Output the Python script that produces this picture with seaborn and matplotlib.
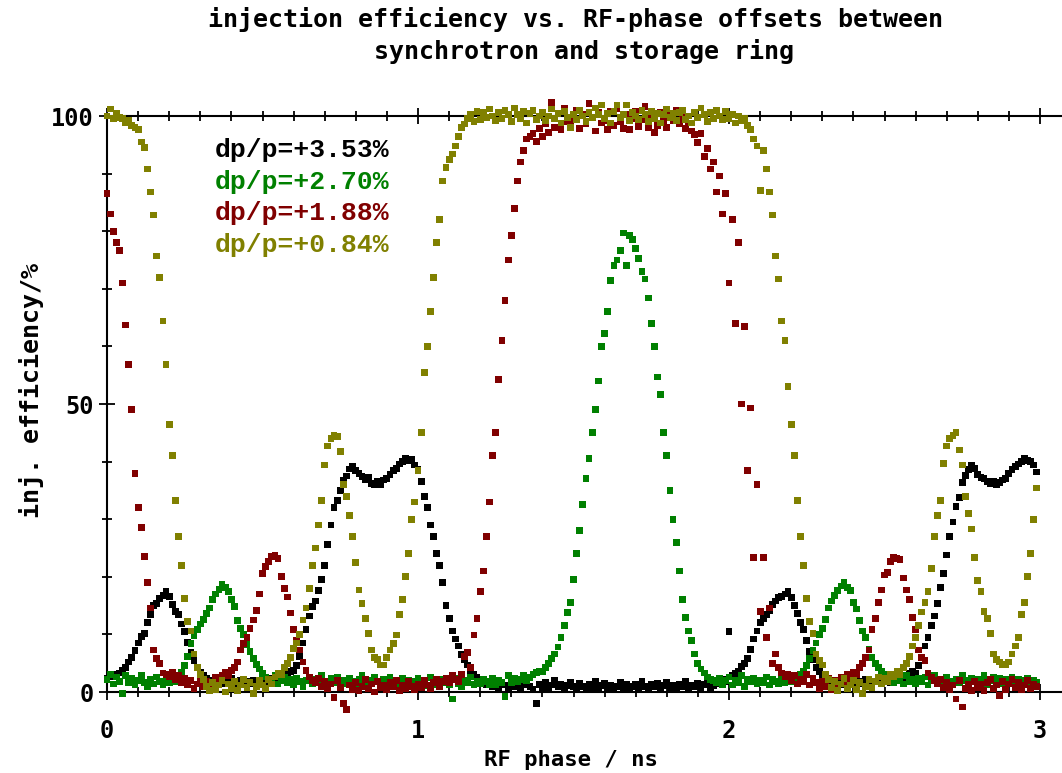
import numpy as np
import pandas as pd
import matplotlib
matplotlib.use("Agg")
import matplotlib.pyplot as plt
import seaborn as sns
from matplotlib.ticker import MultipleLocator

# RF phase scan grid (ns), 10 ps steps
phase_ns = np.round(np.arange(300) * 0.01, 2)

# injection efficiency (%) for each momentum offset, one row per 0.1 ns
eff_353 = [
    2.4, 2.6, 3.0, 2.7, 3.3, 3.8, 4.2, 5.2, 6.0, 7.2,
    8.5, 9.6, 10.2, 12.0, 13.4, 15.0, 15.3, 16.2, 16.8, 17.4,
    16.6, 15.2, 14.0, 13.4, 11.8, 10.5, 8.6, 6.8, 5.4, 4.3,
    3.4, 2.8, 2.4, 2.0, 1.6, 2.2, 1.8, 1.4, 2.0, 1.5,
    2.3, 1.7, 1.5, 2.0, 1.2, 1.8, 1.4, 2.1, 1.6, 1.9,
    2.0, 1.5, 1.8, 2.4, 1.9, 2.6, 2.2, 2.8, 3.0, 3.6,
    3.8, 4.6, 6.2, 8.5, 10.8, 13.2, 14.8, 15.8, 17.6, 19.5,
    22.0, 25.6, 29.0, 32.0, 33.2, 35.0, 36.8, 37.5, 38.7, 39.2,
    38.5, 38.0, 37.4, 36.8, 37.2, 36.2, 36.0, 36.6, 36.0, 36.8,
    37.0, 37.8, 38.4, 38.8, 39.6, 40.0, 40.5, 40.2, 40.3, 39.4,
    38.6, 36.6, 34.0, 32.0, 29.0, 27.0, 24.0, 22.0, 19.0, 15.0,
    12.7, 10.6, 9.2, 8.0, 6.5, 5.6, 4.7, 3.8, 3.0, 2.6,
    2.0, 1.6, 1.2, 1.8, 1.0, 1.4, 0.8, 1.6, 1.2, 0.6,
    1.4, 1.0, 1.8, 0.7, 1.2, 2.0, 1.0, 0.5, -2.0, 1.3,
    0.8, 1.6, 0.6, 1.2, 2.0, 0.9, 1.4, 0.4, 1.1, 1.7,
    0.9, 0.5, 1.5, 1.0, 0.4, 1.3, 0.8, 1.8, 0.6, 1.1,
    1.5, 0.7, 1.2, 0.5, 1.0, 1.6, 0.8, 1.3, 0.6, 1.0,
    1.4, 0.8, 1.8, 1.0, 0.6, 1.3, 0.9, 1.5, 0.7, 1.1,
    1.6, 0.8, 1.2, 0.5, 1.4, 1.0, 1.8, 0.7, 1.2, 0.9,
    1.5, 0.8, 1.3, 1.7, 0.6, 1.1, 1.9, 1.4, 2.2, 1.8,
    10.5, 2.8, 3.2, 3.6, 4.4, 5.0, 5.8, 7.4, 9.2, 10.6,
    12.0, 12.8, 13.4, 14.2, 15.2, 15.8, 16.4, 16.6, 17.0, 17.4,
    16.4, 15.0, 13.6, 12.0, 10.8, 9.0, 7.0, 5.6, 4.3, 3.6,
    3.0, 2.5, 2.2, 1.8, 2.0, 1.5, 1.9, 1.3, 1.7, 2.1,
    1.6, 1.2, 1.9, 1.4, 2.2, 1.6, 1.3, 1.8, 2.0, 1.5,
    1.8, 2.3, 1.6, 2.0, 2.6, 2.2, 2.8, 2.5, 3.2, 3.6,
    3.3, 4.6, 6.0, 8.0, 9.5, 11.6, 13.2, 15.4, 18.2, 20.6,
    23.8, 27.0, 29.5, 32.2, 33.8, 36.4, 37.6, 38.6, 39.4, 38.8,
    37.8, 37.2, 37.0, 36.6, 36.2, 36.6, 36.0, 36.4, 36.8, 37.0,
    38.0, 38.6, 39.2, 39.6, 40.0, 40.6, 40.2, 40.0, 39.4, 38.2,
]

eff_270 = [
    2.2, 3.0, 1.4, 2.6, 1.8, -0.2, 2.8, 1.6, 2.4, 1.2,
    2.0, 2.8, 1.6, 1.0, 2.2, 1.4, 2.6, 1.8, 1.2, 2.0,
    1.6, 2.4, 1.8, 2.8, 3.4, 4.6, 6.2, 8.4, 9.8, 10.8,
    11.8, 12.6, 13.6, 14.6, 16.0, 17.0, 17.8, 18.6, 18.2, 17.4,
    16.0, 14.8, 12.4, 11.0, 10.0, 8.2, 7.0, 5.8, 4.8, 4.0,
    3.2, 2.6, 2.2, 1.8, 2.8, 1.4, 2.0, 2.5, 1.6, 2.2,
    1.2, 2.4, 1.8, 1.0, 2.0, 2.6, 1.4, 2.2, 1.6, 2.8,
    1.8, 1.2, 2.3, 1.6, 2.6, 1.0, 2.0, 1.5, 2.4, 1.8,
    1.4, 2.2, 2.8, 1.6, 1.2, 2.0, 2.5, 1.8, 1.3, 2.2,
    1.7, 2.6, 1.4, 2.0, 1.2, 2.4, 1.6, 2.1, 1.0, 1.8,
    2.3, 1.5, 2.0, 1.1, 2.5, 1.7, 1.3, 2.2, 1.6, 2.0,
    1.2, -1.2, 2.4, 1.5, 1.0, 2.1, 1.6, 2.6, 1.3, 1.9,
    1.5, 2.2, 1.8, 1.2, 2.4, 1.3, 2.0, 1.6, -0.8, 2.8,
    1.6, 2.4, 1.8, 2.2, 2.8, 2.0, 2.5, 3.0, 3.4, 3.6,
    3.6, 4.2, 5.0, 5.8, 6.6, 7.8, 9.4, 11.6, 13.8, 15.6,
    19.5, 24.0, 28.0, 32.5, 37.0, 40.6, 45.0, 49.0, 54.0, 60.0,
    62.3, 66.0, 71.4, 74.0, 75.0, 76.7, 79.7, 74.0, 79.3, 78.5,
    77.0, 75.3, 73.0, 71.7, 68.4, 64.0, 60.0, 54.7, 51.7, 45.0,
    41.0, 35.0, 30.0, 26.0, 21.0, 16.0, 13.0, 10.6, 9.0, 6.6,
    5.0, 4.0, 3.3, 2.6, 2.2, 2.0, 1.6, 2.4, 1.2, 2.0,
    2.6, 1.2, 2.0, 1.6, 2.8, 1.0, 2.2, 1.8, 2.4, 1.4,
    2.0, 1.6, 2.6, 1.2, 2.2, 1.8, 1.4, 2.4, 1.6, 2.2,
    1.8, 2.6, 2.2, 3.0, 3.6, 4.6, 5.8, 7.2, 8.5, 10.0,
    11.0, 12.6, 14.6, 15.8, 16.8, 17.6, 18.4, 19.0, 18.2, 17.6,
    15.6, 14.4, 12.4, 10.6, 9.5, 7.4, 6.0, 5.0, 4.3, 3.6,
    3.0, 2.6, 2.2, 1.6, 2.4, 2.0, 1.4, 2.8, 1.8, 2.2,
    1.5, 2.4, 1.8, 2.6, 1.2, 2.0, 2.8, 1.6, 2.2, 1.4,
    2.6, 1.8, 1.2, 2.2, 1.6, 2.8, 2.0, 1.4, 2.4, 1.8,
    2.2, 1.6, 2.8, 1.2, 2.0, 2.6, 1.8, 2.4, 1.4, 2.2,
    1.8, 2.6, 1.4, 2.2, 2.0, 1.6, 2.4, 1.2, 2.0, 1.6,
]

eff_188 = [
    86.5, 83.0, 80.0, 78.0, 76.7, 71.0, 63.7, 56.8, 49.0, 38.0,
    32.0, 28.6, 23.5, 19.0, 14.6, 7.3, 5.8, 5.0, 3.3, 3.0,
    2.6, 3.4, 2.2, 2.8, 1.6, 2.4, 1.2, 2.0, 0.6, 1.4,
    2.2, 1.0, 1.8, 0.4, 1.4, 2.6, 1.6, 2.8, 3.4, 2.8,
    3.8, 4.3, 5.2, 7.3, 8.4, 9.5, 11.0, 12.5, 14.2, 17.0,
    20.6, 21.8, 22.6, 23.5, 23.8, 23.2, 20.0, 18.0, 16.5, 13.7,
    10.8, 9.0, 7.3, 5.2, 3.8, 2.6, 2.0, 1.6, 2.4, 1.0,
    1.8, 0.6, 1.4, -1.0, 2.0, 0.8, -2.0, -3.0, 1.2, 0.4,
    1.6, 0.2, 1.0, 2.2, 0.6, 1.4, 0.0, 1.8, 0.8, 1.2,
    0.4, 1.6, 0.9, 2.0, 0.2, 1.2, 0.6, 1.8, 1.0, 0.4,
    1.4, 0.8, 2.0, 1.2, 0.6, 1.6, 2.2, 1.0, 1.8, 2.4,
    1.6, 2.8, 2.2, 1.8, 3.0, 6.2, 6.8, 4.3, 9.9, 12.7,
    17.4, 21.0, 27.0, 33.0, 41.0, 45.0, 54.3, 61.0, 68.0, 75.0,
    79.3, 84.0, 88.7, 92.0, 94.0, 96.0, 96.4, 97.0, 95.6, 97.8,
    96.4, 98.6, 97.2, 102.3, 98.0, 100.4, 97.6, 101.4, 99.0, 98.2,
    99.4, 101.0, 97.8, 100.2, 98.6, 102.2, 99.8, 97.4, 100.6, 98.8,
    99.2, 97.6, 100.8, 98.4, 101.2, 99.0, 97.8, 100.2, 97.6, 99.6,
    100.8, 98.2, 99.4, 101.6, 98.0, 100.2, 97.2, 98.4, 100.6, 99.0,
    98.0, 100.4, 99.2, 101.0, 98.6, 99.8, 97.8, 98.8, 97.4, 96.8,
    95.4, 97.0, 93.0, 94.4, 90.8, 92.0, 86.8, 89.6, 83.0, 86.5,
    71.0, 82.0, 64.0, 78.0, 50.0, 63.4, 38.4, 49.3, 23.3, 36.0,
    14.0, 23.3, 9.4, 14.6, 5.0, 6.6, 4.2, 3.3, 2.6, 3.0,
    2.0, 2.8, 1.4, 2.2, 1.8, 3.0, 1.2, 2.4, 1.6, 0.6,
    1.8, 1.0, 2.4, 0.4, 2.0, 1.4, 2.6, 1.6, 3.0, 2.2,
    3.4, 3.0, 4.3, 5.0, 6.0, 7.3, 10.8, 12.7, 15.6, 17.7,
    20.3, 20.8, 22.6, 23.4, 23.2, 23.0, 19.8, 17.7, 16.0, 13.0,
    10.8, 7.3, 6.0, 5.5, 3.3, 2.6, 2.0, 1.4, 2.2, 0.8,
    1.6, 0.4, 1.2, -1.2, 2.0, -2.6, 0.6, 1.4, 0.2, 1.8,
    0.8, 1.4, 0.2, 1.6, 2.2, 0.6, 1.2, -0.6, 1.8, 0.4,
    1.4, 2.2, 0.8, 1.6, 0.4, 1.2, 2.0, 0.6, 1.4, 1.0,
]

eff_084 = [
    100.0, 101.2, 99.6, 100.5, 99.8, 99.5, 98.8, 99.2, 98.4, 98.0,
    97.6, 95.5, 94.6, 90.8, 86.8, 82.8, 75.7, 72.0, 64.4, 56.8,
    46.4, 41.0, 33.3, 27.0, 22.0, 16.3, 12.3, 10.6, 6.6, 4.3,
    3.0, 2.2, 1.0, 0.2, 1.6, 0.4, 1.2, 2.0, 0.0, 1.4,
    0.6, 1.8, 0.2, 1.2, 2.2, 0.8, 1.6, -0.2, 1.0, 2.0,
    1.2, 0.6, 2.2, 1.4, 2.6, 3.3, 3.0, 4.3, 5.0, 6.0,
    7.5, 8.5, 10.0, 12.5, 14.6, 18.0, 22.0, 25.0, 29.0, 33.3,
    39.4, 42.7, 44.0, 44.6, 44.4, 41.7, 36.0, 34.0, 30.7, 27.0,
    22.5, 17.7, 15.3, 12.7, 10.2, 7.3, 6.0, 5.6, 4.7, 4.7,
    6.0, 7.3, 8.4, 9.9, 13.4, 16.0, 20.0, 24.0, 30.0, 33.0,
    38.5, 45.0, 55.4, 60.0, 66.0, 72.0, 78.0, 82.0, 88.7, 91.0,
    92.5, 93.4, 94.8, 96.4, 98.0, 98.6, 99.5, 100.2, 99.0, 100.8,
    99.4, 100.6, 99.8, 101.2, 100.0, 99.2, 100.6, 99.6, 101.0, 100.2,
    99.0, 101.4, 100.2, 99.6, 100.8, 98.8, 100.4, 101.0, 99.4, 100.0,
    100.6, 99.2, 100.0, 101.2, 99.6, 100.4, 98.8, 100.8, 99.8, 98.0,
    100.2, 99.4, 101.0, 100.0, 99.0, 100.6, 99.8, 101.4, 100.2, 101.9,
    99.6, 100.4, 98.8, 100.8, 101.9, 99.8, 100.2, 101.9, 99.2, 100.6,
    100.0, 99.4, 101.0, 100.2, 99.0, 100.8, 99.6, 100.4, 98.8, 100.2,
    101.2, 99.8, 100.4, 99.2, 100.6, 101.0, 99.4, 100.0, 98.8, 100.6,
    99.8, 101.4, 100.2, 99.0, 100.6, 99.6, 101.0, 100.0, 99.4, 100.8,
    99.6, 100.2, 98.8, 100.0, 99.2, 99.6, 98.4, 97.7, 96.0, 94.8,
    87.0, 94.0, 90.8, 86.8, 82.8, 75.7, 71.7, 64.4, 61.0, 53.0,
    46.4, 41.0, 33.3, 27.0, 22.0, 16.3, 12.3, 10.2, 6.6, 5.4,
    4.7, 3.0, 2.2, 0.8, 1.8, 0.2, 1.4, 2.4, 0.6, 1.2,
    2.0, 0.4, 1.6, -0.2, 1.0, 2.2, 0.8, 1.8, 2.6, 1.4,
    2.4, 1.8, 3.0, 2.6, 3.6, 3.0, 4.3, 5.0, 6.2, 8.0,
    9.5, 11.5, 13.9, 15.5, 17.4, 21.4, 27.0, 30.7, 33.3, 39.7,
    42.7, 44.0, 44.6, 45.0, 42.0, 39.4, 34.0, 31.0, 28.3, 23.3,
    19.3, 17.4, 14.0, 12.7, 10.2, 6.6, 5.6, 5.2, 4.8, 4.7,
    5.2, 6.6, 8.0, 9.4, 13.4, 15.6, 20.0, 24.0, 30.0, 35.4,
]

series_labels = ["dp/p=+3.53%", "dp/p=+2.70%", "dp/p=+1.88%", "dp/p=+0.84%"]
series_colors = ["#000000", "#008000", "#800000", "#808000"]

df = pd.concat(
    [pd.DataFrame({"phase": phase_ns, "eff": vals, "dp": lab})
     for lab, vals in zip(series_labels, [eff_353, eff_270, eff_188, eff_084])],
    ignore_index=True,
)

sns.set_theme(style="ticks")
plt.rcParams["font.family"] = ["DejaVu Sans Mono", "DejaVu Sans"]
plt.rcParams["axes.linewidth"] = 1.5
plt.rcParams["text.color"] = "black"
plt.rcParams["axes.labelcolor"] = "black"
plt.rcParams["xtick.color"] = "black"
plt.rcParams["ytick.color"] = "black"

W, H = 1062, 773
fig = plt.figure(figsize=(W / 100, H / 100), dpi=100)
ax = fig.add_axes([107 / W, (H - 692) / H, (W - 107) / W, 576 / H])

sns.scatterplot(
    data=df, x="phase", y="eff", hue="dp", hue_order=series_labels,
    palette=dict(zip(series_labels, series_colors)), marker="s", s=24,
    linewidth=0, legend=False, ax=ax, clip_on=False, zorder=3,
)

ax.set_xlim(0, (W - 107) / 311)
ax.set_ylim(0, 100)
ax.xaxis.set_major_locator(MultipleLocator(1))
ax.xaxis.set_minor_locator(MultipleLocator(0.1))
ax.yaxis.set_major_locator(MultipleLocator(50))
ax.yaxis.set_minor_locator(MultipleLocator(10))
ax.tick_params(which="both", direction="inout", top=True, right=False,
               color="black", width=1.3, labelcolor="black")
ax.tick_params(which="major", length=11, labelsize=17, pad=14)
ax.tick_params(which="minor", length=7)
ax.tick_params(axis="y", which="major", pad=4)
for lab in ax.get_xticklabels() + ax.get_yticklabels():
    lab.set_fontweight("bold")
    lab.set_color("black")
ax.spines["right"].set_visible(False)
for side in ("left", "bottom", "top"):
    ax.spines[side].set_color("black")
ax.set_xlabel("")
ax.set_ylabel("")

fig.text(575 / W, 1 - 20 / H, "injection efficiency vs. RF-phase offsets between",
         ha="center", va="center", fontsize=18, fontweight="bold", color="black")
fig.text(584 / W, 1 - 52 / H, "synchrotron and storage ring",
         ha="center", va="center", fontsize=18, fontweight="bold", color="black")
fig.text(571 / W, 1 - 760 / H, "RF phase / ns", ha="center", va="center",
         fontsize=16, fontweight="bold", color="black")
fig.text(32 / W, 1 - 390 / H, "inj. efficiency/%", ha="center", va="center",
         rotation=90, fontsize=18, fontweight="bold", color="black")

for i, (lab, col) in enumerate(zip(series_labels, series_colors)):
    ax.text(0.345, 94.1 - 5.5 * i, lab, color=col, ha="left", va="center",
            family=["Liberation Mono", "DejaVu Sans Mono"], fontweight="bold",
            fontsize=19)

fig.savefig("out.png", dpi=100, facecolor="white")
